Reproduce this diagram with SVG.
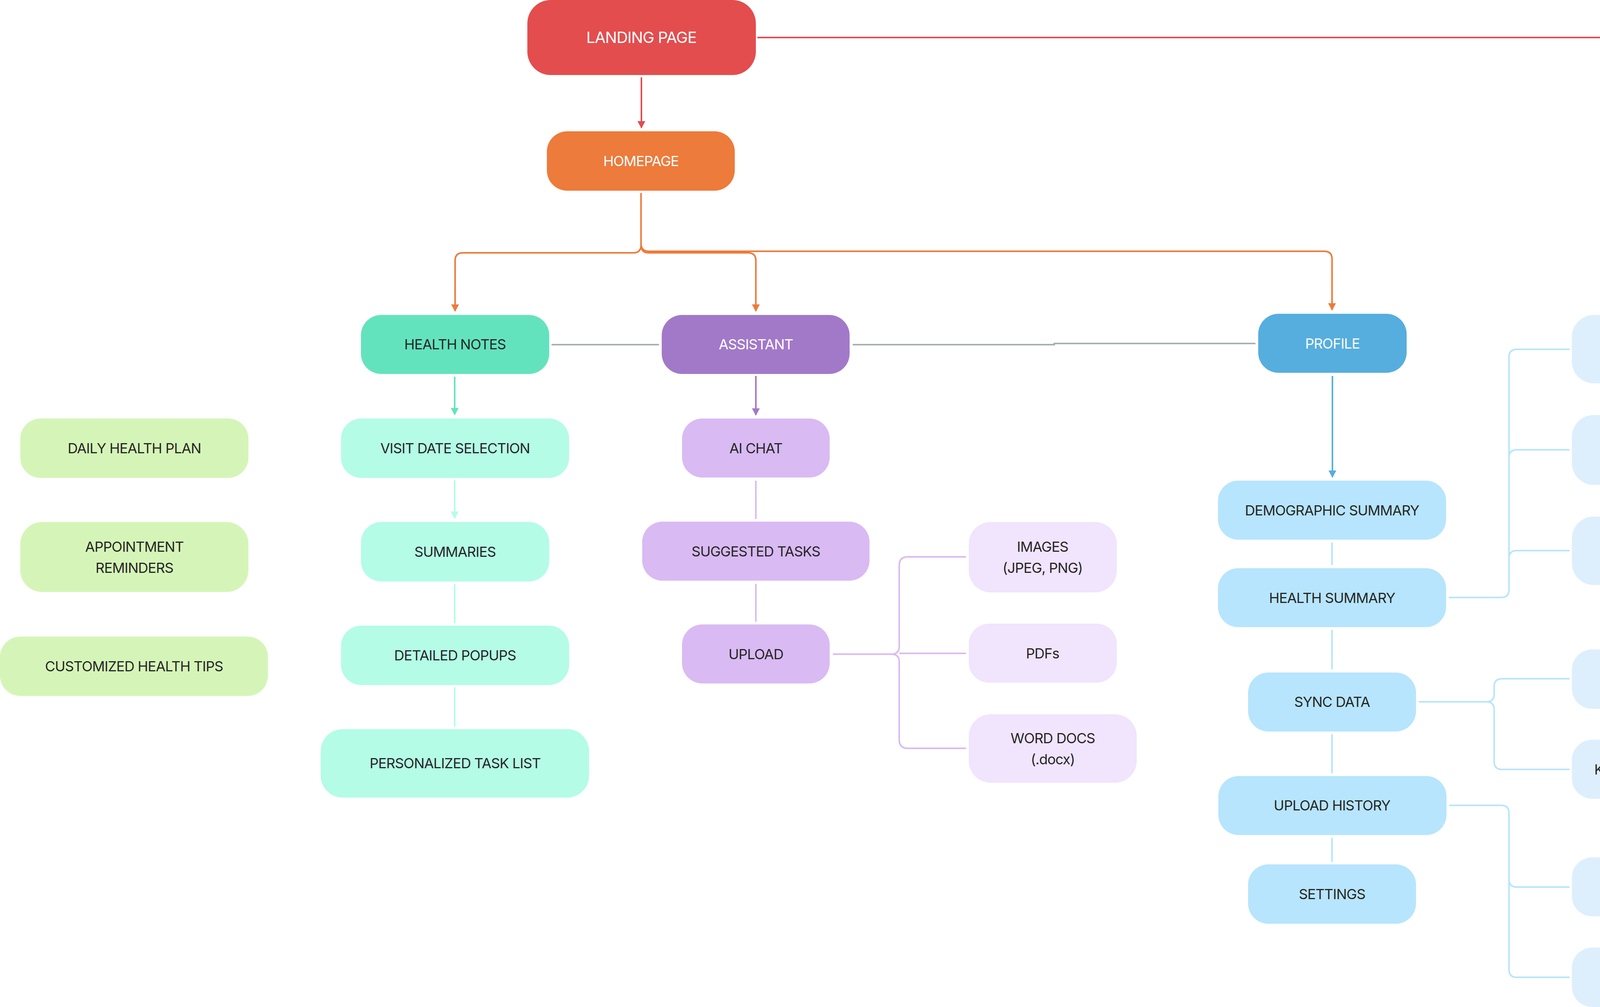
<svg xmlns="http://www.w3.org/2000/svg" width="6122" height="2577" viewBox="0 0 6122 2577">
<style>
text{font-family:Inter,"Noto Sans","Liberation Sans",sans-serif;font-size:36px;text-anchor:middle;letter-spacing:-1px}
.tw{fill:#FFFFFF}
.td{fill:#262626}
.big{font-size:40px}
.c{fill:none;stroke-width:4}
.red{fill:#E34D4E}.orange{fill:#ED7B3B}.teal{fill:#63E3BD}.mint{fill:#B4FCE6}.green{fill:#D5F5B8}
.purple{fill:#A279C8}.lpurple{fill:#D9BAF3}.llpurple{fill:#F1E4FD}
.blue{fill:#56AEDE}.lblue{fill:#B7E5FD}.llblue{fill:#DDEFFD}
.yellow{fill:#F4C546}.lyellow{fill:#FDE298}.llyellow{fill:#FDEEC5}
.sred{stroke:#E34D4E}.sorange{stroke:#ED7B3B}.steal{stroke:#63E3BD}.smint{stroke:#B4FCE6}
.sgray{stroke:#A8B0B2}.spurple{stroke:#A279C8}.slpurple{stroke:#D9BAF3}
.sblue{stroke:#56AEDE}.slblue{stroke:#B7E5FD}.syellow{stroke:#F4C546}.slyellow{stroke:#FDE298}
</style>
<defs>
<marker id="aRed" markerUnits="userSpaceOnUse" markerWidth="22" markerHeight="22" refX="17" refY="10" orient="auto"><path d="M0,0 L19,10 L0,20 Z" fill="#E34D4E"/></marker>
<marker id="aOrange" markerUnits="userSpaceOnUse" markerWidth="22" markerHeight="22" refX="17" refY="10" orient="auto"><path d="M0,0 L19,10 L0,20 Z" fill="#ED7B3B"/></marker>
<marker id="aTeal" markerUnits="userSpaceOnUse" markerWidth="22" markerHeight="22" refX="17" refY="10" orient="auto"><path d="M0,0 L19,10 L0,20 Z" fill="#63E3BD"/></marker>
<marker id="aMint" markerUnits="userSpaceOnUse" markerWidth="22" markerHeight="22" refX="17" refY="10" orient="auto"><path d="M0,0 L19,10 L0,20 Z" fill="#B4FCE6"/></marker>
<marker id="aPurple" markerUnits="userSpaceOnUse" markerWidth="22" markerHeight="22" refX="17" refY="10" orient="auto"><path d="M0,0 L19,10 L0,20 Z" fill="#A279C8"/></marker>
<marker id="aBlue" markerUnits="userSpaceOnUse" markerWidth="22" markerHeight="22" refX="17" refY="10" orient="auto"><path d="M0,0 L19,10 L0,20 Z" fill="#56AEDE"/></marker>
<marker id="aYellow" markerUnits="userSpaceOnUse" markerWidth="22" markerHeight="22" refX="17" refY="10" orient="auto"><path d="M0,0 L19,10 L0,20 Z" fill="#F4C546"/></marker>
</defs>
<rect width="6122" height="2577" fill="#FFFFFF"/>

<g id="connectors">
<path class="c sred" d="M1939,96 H4683"/>
<path class="c sred" d="M1642,198 V327" marker-end="url(#aRed)"/>
<path class="c sred" d="M4930,198 V327" marker-end="url(#aRed)"/>
<path class="c sorange" d="M4931,494 V793" marker-end="url(#aOrange)"/>
<path class="c sorange" d="M1641,494 V627 Q1641,647 1621,647 H1185 Q1165,647 1165,667 V796" marker-end="url(#aOrange)"/>
<path class="c sorange" d="M1641,627 Q1641,647 1661,647 H1915 Q1935,647 1935,667 V796" marker-end="url(#aOrange)"/>
<path class="c sorange" d="M1641,623 Q1641,643 1661,643 H3390 Q3410,643 3410,663 V793" marker-end="url(#aOrange)"/>
<path class="c sgray" d="M1412,882 H1687"/>
<path class="c sgray" d="M2183,882 H2699 V879 H3214"/>
<path class="c steal" d="M1164,964 V1061" marker-end="url(#aTeal)"/>
<path class="c smint" d="M1164,1229 V1326" marker-end="url(#aMint)"/>
<path class="c smint" d="M1164,1495 V1594"/>
<path class="c smint" d="M1164,1759 V1859"/>
<path class="c spurple" d="M1935,962 V1062" marker-end="url(#aPurple)"/>
<path class="c slpurple" d="M1935,1230 V1328"/>
<path class="c slpurple" d="M1935,1494 V1591"/>
<path class="c slpurple" d="M2132,1674 H2282 Q2302,1674 2302,1654 V1447 Q2302,1425 2324,1425 H2473"/>
<path class="c slpurple" d="M2282,1674 Q2302,1674 2302,1694 V1893 Q2302,1915 2324,1915 H2473"/>
<path class="c slpurple" d="M2302,1672 H2473"/>
<path class="c sblue" d="M3411,962 V1221" marker-end="url(#aBlue)"/>
<path class="c slblue" d="M3410,1388 V1446"/>
<path class="c slblue" d="M3410,1612 V1713"/>
<path class="c slblue" d="M3410,1879 V1979"/>
<path class="c slblue" d="M3410,2144 V2206"/>
<path class="c slblue" d="M3709,1529 H3843 Q3863,1529 3863,1509 V914 Q3863,894 3883,894 H4018"/>
<path class="c slblue" d="M3863,1171 Q3863,1151 3883,1151 H4018"/>
<path class="c slblue" d="M3863,1429 Q3863,1409 3883,1409 H4018"/>
<path class="c slblue" d="M3632,1796 H3805 Q3825,1796 3825,1776 V1757 Q3825,1737 3845,1737 H4018"/>
<path class="c slblue" d="M3805,1796 Q3825,1796 3825,1816 V1949 Q3825,1969 3845,1969 H4018"/>
<path class="c slblue" d="M3710,2061 H3843 Q3863,2061 3863,2081 V2481 Q3863,2501 3883,2501 H4018"/>
<path class="c slblue" d="M3863,2250 Q3863,2270 3883,2270 H4018"/>
<path class="c syellow" d="M4930,962 V1205" marker-end="url(#aYellow)"/>
<path class="c slyellow" d="M4930,1397 V1644"/>
<path class="c slyellow" d="M4930,1849 V1930"/>
<path class="c syellow" d="M5151,878 H5684" marker-end="url(#aYellow)"/>
<path class="c syellow" d="M5399,878 Q5419,878 5419,898 V1370 Q5419,1390 5439,1390 H5684" marker-end="url(#aYellow)"/>
<path class="c syellow" d="M5419,1115 Q5419,1135 5439,1135 H5684" marker-end="url(#aYellow)"/>
<path class="c slyellow" d="M5229,1302 H5360 Q5380,1302 5380,1322 V1698 Q5380,1718 5400,1718 H5530"/>
<path class="c slyellow" d="M5380,1698 V1939 Q5380,1959 5400,1959 H5530"/>
<path class="c slyellow" d="M5229,1746 H5303 Q5323,1746 5323,1766 V2287 Q5323,2307 5343,2307 H5418"/>
</g>

<g id="landing-page"><rect class="red" x="1350" y="0" width="585" height="192" rx="60"/><text class="tw big" x="1642" y="110">LANDING PAGE</text></g>
<g id="new-user"><rect class="red" x="4690" y="0" width="480" height="192" rx="60"/><text class="tw big" x="4930" y="110">NEW USER</text></g>
<g id="homepage"><rect class="orange" x="1400" y="336" width="481" height="152" rx="52"/><text class="tw" x="1641" y="425">HOMEPAGE</text></g>
<g id="sign-up"><rect class="orange" x="4741" y="336" width="380" height="152" rx="52"/><text class="tw" x="4931" y="425">SIGN UP</text></g>

<g id="health-notes"><rect class="teal" x="924" y="806" width="482" height="151" rx="52"/><text class="td" x="1165" y="894">HEALTH NOTES</text></g>
<g id="assistant"><rect class="purple" x="1694" y="806" width="481" height="151" rx="52"/><text class="tw" x="1935" y="894">ASSISTANT</text></g>
<g id="profile"><rect class="blue" x="3221" y="803" width="380" height="151" rx="52"/><text class="tw" x="3411" y="892">PROFILE</text></g>
<g id="profile-setup"><rect class="yellow" x="4714" y="803" width="430" height="151" rx="52"/><text class="td" x="4929" y="892">PROFILE SETUP</text></g>

<g id="visit-date-selection"><rect class="mint" x="873" y="1071" width="584" height="152" rx="52"/><text class="td" x="1165" y="1160">VISIT DATE SELECTION</text></g>
<g id="summaries"><rect class="mint" x="924" y="1336" width="482" height="152" rx="52"/><text class="td" x="1165" y="1425">SUMMARIES</text></g>
<g id="detailed-popups"><rect class="mint" x="873" y="1601" width="584" height="152" rx="52"/><text class="td" x="1165" y="1690">DETAILED POPUPS</text></g>
<g id="personalized-task-list"><rect class="mint" x="821" y="1866" width="687" height="175" rx="56"/><text class="td" x="1165" y="1966">PERSONALIZED TASK LIST</text></g>

<g id="daily-health-plan"><rect class="green" x="52" y="1071" width="584" height="152" rx="52"/><text class="td" x="344" y="1160">DAILY HEALTH PLAN</text></g>
<g id="appointment-reminders"><rect class="green" x="52" y="1336" width="584" height="179" rx="56"/><text class="td" x="344" y="1412">APPOINTMENT</text><text class="td" x="344" y="1466">REMINDERS</text></g>
<g id="customized-health-tips"><rect class="green" x="0" y="1629" width="686" height="152" rx="52"/><text class="td" x="343" y="1718">CUSTOMIZED HEALTH TIPS</text></g>

<g id="ai-chat"><rect class="lpurple" x="1746" y="1071" width="378" height="151" rx="52"/><text class="td" x="1935" y="1160">AI CHAT</text></g>
<g id="suggested-tasks"><rect class="lpurple" x="1644" y="1335" width="582" height="151" rx="52"/><text class="td" x="1935" y="1424">SUGGESTED TASKS</text></g>
<g id="upload"><rect class="lpurple" x="1746" y="1598" width="378" height="151" rx="52"/><text class="td" x="1935" y="1687">UPLOAD</text></g>
<g id="images"><rect class="llpurple" x="2480" y="1336" width="379" height="180" rx="56"/><text class="td" x="2669" y="1412">IMAGES</text><text class="td" x="2669" y="1466">(JPEG, PNG)</text></g>
<g id="pdfs-upload"><rect class="llpurple" x="2480" y="1596" width="379" height="151" rx="52"/><text class="td" x="2669" y="1685">PDFs</text></g>
<g id="word-docs"><rect class="llpurple" x="2480" y="1828" width="430" height="175" rx="56"/><text class="td" x="2695" y="1902">WORD DOCS</text><text class="td" x="2695" y="1956">(.docx)</text></g>

<g id="demographic-summary"><rect class="lblue" x="3118" y="1230" width="584" height="151" rx="52"/><text class="td" x="3410" y="1319">DEMOGRAPHIC SUMMARY</text></g>
<g id="health-summary"><rect class="lblue" x="3118" y="1454" width="584" height="151" rx="52"/><text class="td" x="3410" y="1543">HEALTH SUMMARY</text></g>
<g id="sync-data-profile"><rect class="lblue" x="3195" y="1721" width="430" height="151" rx="52"/><text class="td" x="3410" y="1809">SYNC DATA</text></g>
<g id="upload-history"><rect class="lblue" x="3119" y="1986" width="584" height="151" rx="52"/><text class="td" x="3410" y="2074">UPLOAD HISTORY</text></g>
<g id="settings"><rect class="lblue" x="3195" y="2212" width="430" height="152" rx="52"/><text class="td" x="3410" y="2301">SETTINGS</text></g>

<g id="primary-conditions"><rect class="llblue" x="4024" y="806" width="430" height="175" rx="56"/><text class="td" x="4239" y="880">PRIMARY</text><text class="td" x="4239" y="934">CONDITIONS</text></g>
<g id="active-medication"><rect class="llblue" x="4024" y="1062" width="430" height="179" rx="56"/><text class="td" x="4239" y="1138">ACTIVE</text><text class="td" x="4239" y="1192">MEDICATION</text></g>
<g id="care-team"><rect class="llblue" x="4024" y="1322" width="430" height="175" rx="56"/><text class="td" x="4239" y="1422">CARE TEAM</text></g>
<g id="app-health"><rect class="llblue" x="4024" y="1662" width="430" height="152" rx="52"/><text class="td" x="4239" y="1751">APP HEALTH</text></g>
<g id="kaiser-permanente"><rect class="llblue" x="4024" y="1893" width="480" height="151" rx="52"/><text class="td" x="4264" y="1982">KAISER PERMANENTE</text></g>
<g id="lab-results"><rect class="llblue" x="4024" y="2194" width="430" height="151" rx="52"/><text class="td" x="4239" y="2283">LAB RESULTS</text></g>
<g id="pdfs-history"><rect class="llblue" x="4024" y="2425" width="380" height="152" rx="52"/><text class="td" x="4214" y="2514">PDFs</text></g>

<g id="name"><rect class="llyellow" x="5694" y="791" width="380" height="175" rx="56"/><text class="td" x="5884" y="892">NAME</text></g>
<g id="age"><rect class="llyellow" x="5694" y="1047" width="380" height="176" rx="56"/><text class="td" x="5884" y="1148">AGE</text></g>
<g id="gender"><rect class="llyellow" x="5694" y="1304" width="380" height="174" rx="56"/><text class="td" x="5884" y="1404">GENDER</text></g>
<g id="health-summary-setup"><rect class="lyellow" x="4638" y="1215" width="583" height="175" rx="56"/><text class="td" x="4930" y="1315">HEALTH SUMMARY SETUP</text></g>
<g id="personalization-goals"><rect class="lyellow" x="4638" y="1651" width="583" height="191" rx="60"/><text class="td" x="4930" y="1733">PERSONALIZATION</text><text class="td" x="4930" y="1787">&amp; GOALS</text></g>
<g id="homepage-setup"><rect class="lyellow" x="4690" y="1937" width="482" height="151" rx="52"/><text class="td" x="4931" y="2026">HOMEPAGE</text></g>
<g id="input-existing-conditions"><rect class="llyellow" x="5538" y="1631" width="584" height="175" rx="56"/><text class="td" x="5830" y="1705">INPUT EXISTING</text><text class="td" x="5830" y="1759">CONDITIONS</text></g>
<g id="sync-data-setup"><rect class="llyellow" x="5538" y="1871" width="430" height="175" rx="56"/><text class="td" x="5753" y="1972">SYNC DATA</text></g>
<g id="survey"><rect class="llyellow" x="5427" y="2219" width="430" height="175" rx="56"/><text class="td" x="5642" y="2319">SURVEY</text></g>
</svg>
